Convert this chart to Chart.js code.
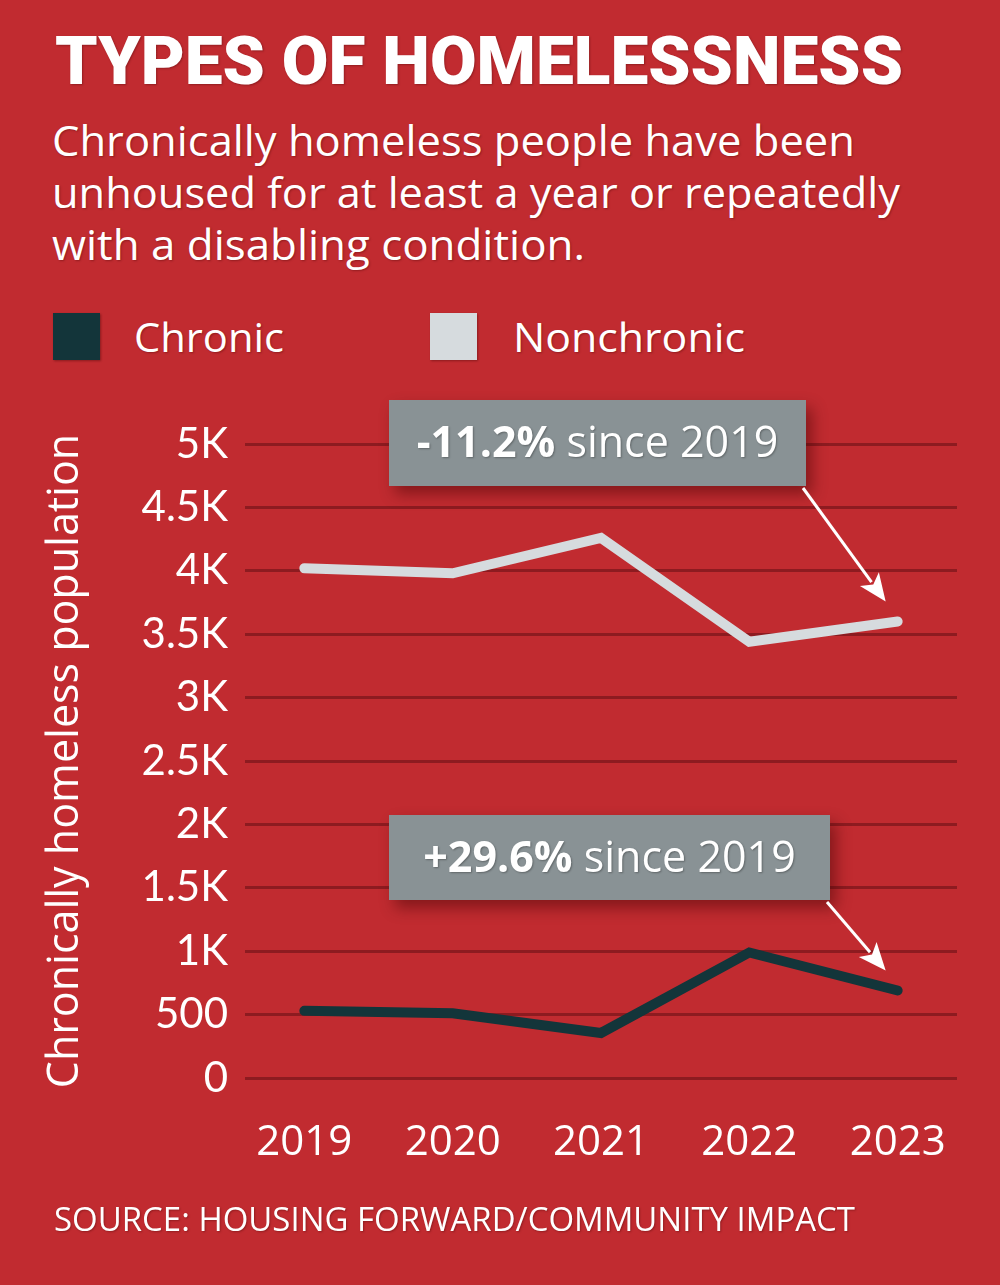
<!DOCTYPE html>
<html>
<head>
<meta charset="utf-8">
<script src="https://cdn.jsdelivr.net/npm/chart.js@4.4.1/dist/chart.umd.min.js"></script>
<style>
  html, body { margin: 0; padding: 0; }
  body {
    width: 1000px; height: 1285px; position: relative; overflow: hidden;
    background: #c12b30; color: #fff;
    font-family: "Open Sans", sans-serif;
  }
  .txt { position: absolute; white-space: nowrap; transform-origin: 0 0; text-shadow: 1px 1px 2px rgba(60,0,0,0.35); }
  #title { left: 55px; top: 29px; font: 900 66px/1 Roboto, sans-serif; }
  .sub { left: 52px; font-size: 42px; line-height: 52px; }
  .legend-box { position: absolute; width: 47px; height: 47px; top: 313px; box-shadow: 1px 1px 2px rgba(60,0,0,0.4); }
  .legend-label { top: 317px; font-size: 40px; line-height: 1; }
  #source { left: 54px; top: 1202px; font-size: 33px; line-height: 1; }
  #wrap { position: absolute; left: 0; top: 380px; width: 1000px; height: 820px; }
</style>
</head>
<body>
<div id="title" class="txt" data-w="848">TYPES OF HOMELESSNESS</div>
<div class="txt sub" style="top:114px" data-w="803">Chronically homeless people have been</div>
<div class="txt sub" style="top:166px" data-w="848">unhoused for at least a year or repeatedly</div>
<div class="txt sub" style="top:218px" data-w="533">with a disabling condition.</div>
<div id="legend"></div>
<div id="wrap"><canvas id="chart"></canvas></div>
<div id="source" class="txt" data-w="801">SOURCE: HOUSING FORWARD/COMMUNITY IMPACT</div>

<script>
const years = [2019, 2020, 2021, 2022, 2023];
const chronic = [530, 510, 355, 990, 690];
const nonchronic = [4020, 3980, 4260, 3440, 3600];
const seriesNames = ['Chronic', 'Nonchronic'];
const seriesColors = ['#13353a', '#d6dbde'];
const yTicks = [0, 500, 1000, 1500, 2000, 2500, 3000, 3500, 4000, 4500, 5000];
const yTickLabels = ['0', '500', '1K', '1.5K', '2K', '2.5K', '3K', '3.5K', '4K', '4.5K', '5K'];
const notes = ['+29.6%', '-11.2%'];
const noteSuffix = ' since 2019';

// legend
const legend = document.getElementById('legend');
const legendX = [[53, 134, 150], [430, 513, 232]];
seriesNames.forEach((name, i) => {
  const box = document.createElement('div');
  box.className = 'legend-box';
  box.style.left = legendX[i][0] + 'px';
  box.style.background = seriesColors[i];
  legend.appendChild(box);
  const lab = document.createElement('div');
  lab.className = 'txt legend-label';
  lab.style.left = legendX[i][1] + 'px';
  lab.dataset.w = legendX[i][2];
  lab.textContent = name;
  legend.appendChild(lab);
});

// squeeze text to the widths in the picture
document.querySelectorAll('[data-w]').forEach(el => {
  const w = el.getBoundingClientRect().width;
  el.style.transform = 'scaleX(' + (el.dataset.w / w) + ')';
});

function toPoints(vals) {
  return vals.map((v, i) => ({ x: years[i], y: v }));
}

// grey boxes with arrows to the last point
const calloutPlugin = {
  id: 'callouts',
  afterDraw(chart) {
    const ctx = chart.ctx;
    const boxes = [
      { ds: 0, left: 389, top: 815 - 380, w: 441, h: 85 },
      { ds: 1, left: 389, top: 400 - 380, w: 417, h: 86 }
    ];
    boxes.forEach(b => {
      const meta = chart.getDatasetMeta(b.ds);
      const last = meta.data[meta.data.length - 1];
      ctx.save();
      ctx.shadowColor = 'rgba(60,0,0,0.45)';
      ctx.shadowBlur = 14;
      ctx.shadowOffsetX = 6;
      ctx.shadowOffsetY = 8;
      ctx.fillStyle = '#899295';
      ctx.fillRect(b.left, b.top, b.w, b.h);
      ctx.restore();

      ctx.save();
      const bold = '700 43px "Open Sans"';
      const reg = '400 43px "Open Sans"';
      const label = notes[b.ds];
      ctx.font = bold;
      const w1 = ctx.measureText(label).width;
      ctx.font = reg;
      const w2 = ctx.measureText(noteSuffix).width;
      let x = b.left + (b.w - w1 - w2) / 2;
      const y = b.top + b.h / 2 + 2;
      ctx.fillStyle = '#fff';
      ctx.textBaseline = 'middle';
      ctx.shadowColor = 'rgba(0,0,0,0.3)';
      ctx.shadowBlur = 2;
      ctx.shadowOffsetX = 1;
      ctx.shadowOffsetY = 1;
      ctx.font = bold;
      ctx.fillText(label, x, y);
      ctx.font = reg;
      ctx.fillText(noteSuffix, x + w1, y);
      ctx.restore();

      // arrow
      const sx = b.left + b.w - 3, sy = b.top + b.h + 2;
      const tx = last.x - 12, ty = last.y - 20;
      const ang = Math.atan2(ty - sy, tx - sx);
      const head = 30;
      ctx.save();
      ctx.strokeStyle = '#fff';
      ctx.fillStyle = '#fff';
      ctx.lineWidth = 3;
      ctx.beginPath();
      ctx.moveTo(sx, sy);
      ctx.lineTo(tx - Math.cos(ang) * head * 0.8, ty - Math.sin(ang) * head * 0.8);
      ctx.stroke();
      ctx.beginPath();
      ctx.moveTo(tx, ty);
      ctx.lineTo(tx - Math.cos(ang - 0.4) * head, ty - Math.sin(ang - 0.4) * head);
      ctx.lineTo(tx - Math.cos(ang) * head * 0.7, ty - Math.sin(ang) * head * 0.7);
      ctx.lineTo(tx - Math.cos(ang + 0.4) * head, ty - Math.sin(ang + 0.4) * head);
      ctx.closePath();
      ctx.fill();
      ctx.restore();
    });
  }
};

const ctx = document.getElementById('chart').getContext('2d');
new Chart(ctx, {
  type: 'line',
  data: {
    datasets: [
      { label: seriesNames[0], data: toPoints(chronic), borderColor: seriesColors[0] },
      { label: seriesNames[1], data: toPoints(nonchronic), borderColor: seriesColors[1] }
    ]
  },
  options: {
    responsive: true,
    maintainAspectRatio: false,
    animation: false,
    layout: { padding: { top: 64, right: 43, left: 0, bottom: 0 } },
    elements: {
      line: { borderWidth: 10, borderCapStyle: 'round', borderJoinStyle: 'miter', tension: 0 },
      point: { radius: 0, hoverRadius: 0 }
    },
    plugins: { legend: { display: false }, tooltip: { enabled: false } },
    scales: {
      x: {
        type: 'linear',
        min: 2018.6,
        max: 2023.4,
        afterBuildTicks: s => { s.ticks = years.map(v => ({ value: v })); },
        afterFit: s => { s.height = 122; },
        grid: { display: false },
        border: { display: false },
        ticks: {
          color: '#fff',
          padding: 32,
          font: { family: 'Open Sans', size: 42 },
          callback: v => String(v)
        }
      },
      y: {
        min: 0,
        max: 5000,
        afterBuildTicks: s => { s.ticks = yTicks.map(v => ({ value: v })); },
        afterFit: s => { s.width = 245; },
        grid: { color: '#8d1b20', lineWidth: 3, drawTicks: false },
        border: { display: false },
        ticks: {
          color: '#fff',
          padding: 17,
          font: { family: 'Lato', size: 42 },
          callback: v => yTickLabels[yTicks.indexOf(v)]
        },
        title: {
          display: true,
          text: 'Chronically homeless population',
          color: '#fff',
          font: { family: 'Open Sans', size: 43 },
          padding: { top: 40, bottom: 0 }
        }
      }
    }
  },
  plugins: [calloutPlugin]
});
</script>
</body>
</html>
